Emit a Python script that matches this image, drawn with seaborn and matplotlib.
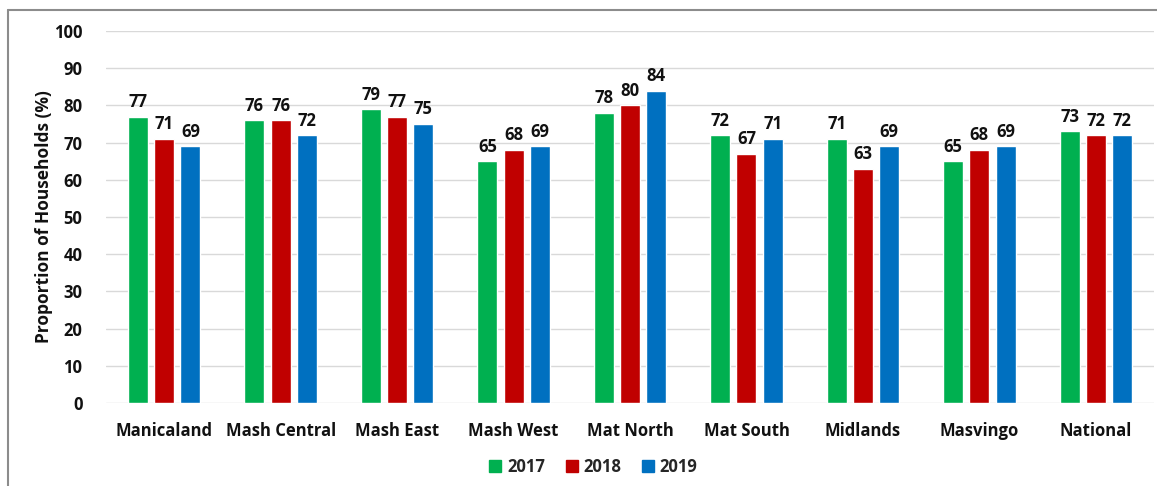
import matplotlib
matplotlib.use("Agg")
import matplotlib.pyplot as plt
import seaborn as sns
import pandas as pd
from matplotlib.lines import Line2D

regions = ["Manicaland", "Mash Central", "Mash East", "Mash West", "Mat North",
           "Mat South", "Midlands", "Masvingo", "National"]
years = ["2017", "2018", "2019"]
v2017 = [77, 76, 79, 65, 78, 72, 71, 65, 73]
v2018 = [71, 76, 77, 68, 80, 67, 63, 68, 72]
v2019 = [69, 72, 75, 69, 84, 71, 69, 69, 72]
yticks = [0, 10, 20, 30, 40, 50, 60, 70, 80, 90, 100]
ylabel = "Proportion of Households (%)"
colors = ["#00B050", "#C00000", "#0070C0"]

rows = []
for yr, vals in zip(years, [v2017, v2018, v2019]):
    for r, v in zip(regions, vals):
        rows.append({"Region": r, "Year": yr, "Value": v})
df = pd.DataFrame(rows)

sns.set_theme(style="white")
plt.rcParams["font.family"] = ["Open Sans", "DejaVu Sans"]
plt.rcParams["font.weight"] = "bold"

FS = 12
W, H = 1157, 486
fig = plt.figure(figsize=(W / 100, H / 100), dpi=100)
ax = fig.add_axes([106 / W, 1 - 403 / H, (1154 - 106) / W, (403 - 31) / H])

sns.barplot(data=df, x="Region", y="Value", hue="Year", order=regions,
            hue_order=years, palette=colors, width=0.675, gap=0.236,
            saturation=1, ax=ax, legend=False, zorder=3)

for cont in ax.containers:
    ax.bar_label(cont, fmt="%d", padding=4, fontsize=FS, fontweight="bold",
                 color="#111111")

ax.set_ylim(0, 100)
ax.set_yticks(yticks)
ax.set_xlim(-0.5, len(regions) - 0.5)
ax.grid(axis="y", color="#d9d9d9", linewidth=1.0, zorder=0)
ax.set_axisbelow(True)
for s in ax.spines.values():
    s.set_visible(False)
ax.tick_params(axis="y", length=0, pad=17, labelsize=FS)
ax.tick_params(axis="x", length=0, pad=14, labelsize=FS)
for lab in ax.get_xticklabels() + ax.get_yticklabels():
    lab.set_fontweight("bold")
    lab.set_color("#111111")
ax.set_xlabel("")
ax.set_ylabel(ylabel, fontsize=12.5, fontweight="bold", color="#111111")
ax.yaxis.set_label_coords(-0.0506, 0.5)

handles = [Line2D([0], [0], marker="s", linestyle="none", markersize=9,
                  markerfacecolor=c, markeredgecolor=c) for c in colors]
fig.legend(handles, years, loc="center", bbox_to_anchor=(593 / W, 1 - 467 / H),
           ncol=3, frameon=False, handlelength=0.8, handletextpad=0.3,
           columnspacing=1.2, prop={"weight": "bold", "size": FS})

# figure frame (left and top edges visible)
fig.add_artist(Line2D([8 / W, 8 / W], [0, 1 - 10 / H], transform=fig.transFigure,
                      color="#8c8c8c", linewidth=1.5))
fig.add_artist(Line2D([8 / W, 1], [1 - 10 / H, 1 - 10 / H], transform=fig.transFigure,
                      color="#8c8c8c", linewidth=1.5))

fig.savefig("out.png", dpi=100)
